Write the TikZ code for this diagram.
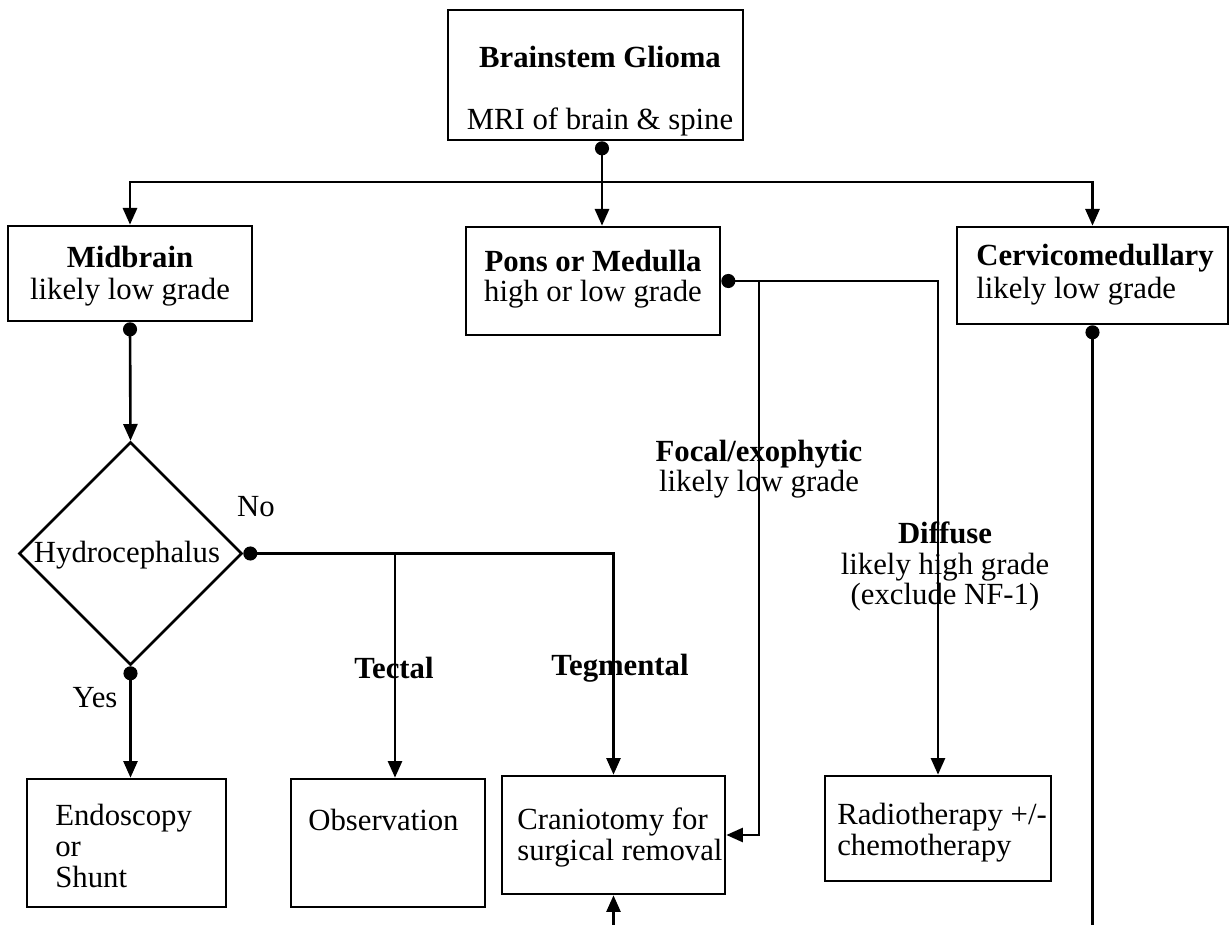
\documentclass[tikz,border=0pt]{standalone}
\usepackage{fontspec}
\setmainfont{Liberation Serif}
\usetikzlibrary{arrows.meta,shapes.geometric}

\tikzset{
  box/.style={draw, inner sep=0pt},
  txt/.style={inner sep=0pt, font=\fontsize{17.5}{17.6}\selectfont},
  dotto/.style={arrows={Circle[length=8pt]}-{Triangle[width=8pt,length=9.5pt]}},
  dotline/.style={arrows={Circle[length=8pt]}-}
}

\begin{document}
\begin{tikzpicture}[x=0.02cm, y=-0.02cm, line width=1.5pt,
    >={Triangle[width=8pt,length=9.5pt]}]
  \useasboundingbox (0,0) rectangle (1231,925);

  % boxes
  \node [box, minimum width=5.9cm,  minimum height=2.6cm]  (top)   at (595.5,75)   {};
  \node [box, minimum width=4.88cm, minimum height=1.9cm]  (mid)   at (130,273.5)  {};
  \node [box, minimum width=5.08cm, minimum height=2.16cm] (pons)  at (593,281)    {};
  \node [box, minimum width=5.42cm, minimum height=1.94cm] (cerv)  at (1092.5,275.5) {};
  \node [box, diamond, minimum width=4.46cm, minimum height=4.46cm] (dia) at (130.5,553.5) {};
  \node [box, minimum width=3.98cm, minimum height=2.56cm] (endo)  at (126.5,843)  {};
  \node [box, minimum width=3.88cm, minimum height=2.56cm] (obs)   at (388,843)    {};
  \node [box, minimum width=4.46cm, minimum height=2.36cm] (cran)  at (613.5,835)  {};
  \node [box, minimum width=4.52cm, minimum height=2.1cm]  (radio) at (938,828.5)  {};

  % texts (base = last line)
  \node [txt, anchor=base] (title)   at (600,68)  {\textbf{Brainstem Glioma}};
  \node [txt, anchor=base] (mri)     at (600,130) {MRI of brain \& spine};
  \node [txt, anchor=base, align=center] (midtxt)  at (130,300) {\textbf{Midbrain}\\[1pt]likely low grade};
  \node [txt, anchor=base, align=center] (ponstxt) at (593,302) {\textbf{Pons or Medulla}\\high or low grade};
  \node [txt, anchor=base west, align=left] (cervtxt) at (975,299) {\textbf{Cervicomedullary}\\[1.5pt]likely low grade};
  \node [txt, anchor=base] (hydrotxt) at (127,563) {Hydrocephalus};
  \node [txt, anchor=base] (notxt)    at (256,517) {No};
  \node [txt, anchor=base] (yestxt)   at (95,707)  {Yes};
  \node [txt, anchor=base, align=center] (focaltxt)   at (759,492) {\textbf{Focal/exophytic}\\likely low grade};
  \node [txt, anchor=base, align=center] (diffusetxt) at (945,605) {\textbf{Diffuse}\\likely high grade\\(exclude NF-1)};
  \node [txt, anchor=base] (tectaltxt) at (394,679) {\textbf{Tectal}};
  \node [txt, anchor=base] (tegtxt)    at (620,676) {\textbf{Tegmental}};
  \node [txt, anchor=base west, align=left] (endotxt)  at (54,887)  {Endoscopy\\or\\Shunt};
  \node [txt, anchor=base west] (obstxt) at (307,830) {Observation};
  \node [txt, anchor=base west, align=left] (crantxt)  at (516,860) {Craniotomy for\\surgical removal};
  \node [txt, anchor=base west, align=left] (radiotxt) at (836,855) {Radiotherapy +/-\\chemotherapy};

  % branch points
  \coordinate (split)   at (602,182);
  \coordinate (tect)    at (395,553.5);
  \coordinate (focal)   at (759,281);
  \coordinate (cervend) at (1092.5,925);
  \coordinate (cranin)  at (613.5,925);

  % connectors
  \draw [dotto] (top.south -| split) -- (pons.north -| split);
  \draw [->] (split) -| (mid.north);
  \draw [->] (split) -| (cerv.north);
  \draw [dotto] (mid.south) -- (dia.north);
  \draw [dotto] (dia.south) -- (dia.south |- endo.north);
  \draw [dotto] (dia.east) -| (cran.north);
  \draw [->] (tect) -- (obs.north -| tect);
  \draw [dotto] (pons.east) -| (radio.north);
  \draw [->] (focal) |- (cran.east);
  \draw [dotline] (cerv.south) -- (cervend);
  \draw [->] (cranin) -- (cran.south);
\end{tikzpicture}
\end{document}
